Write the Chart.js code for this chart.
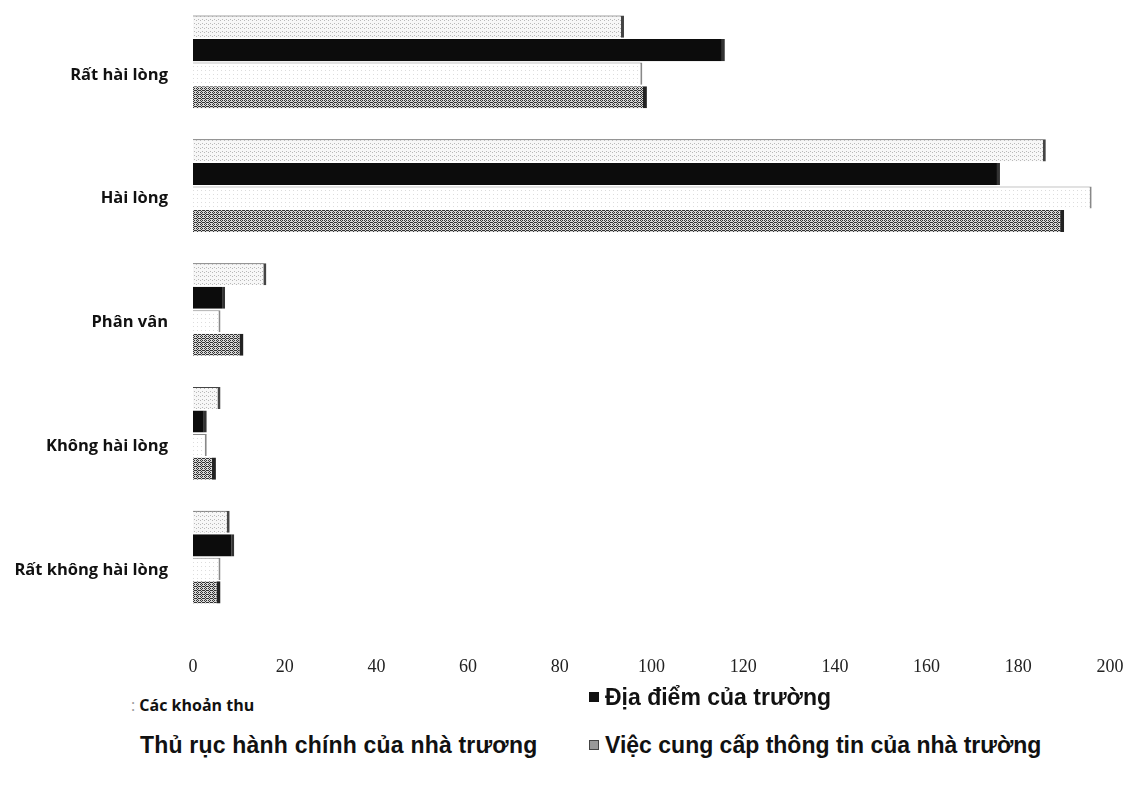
<!DOCTYPE html>
<html>
<head>
<meta charset="utf-8">
<script src="https://cdn.jsdelivr.net/npm/chart.js@4/dist/chart.umd.min.js"></script>
<style>
    body { margin: 0; background: #fff; width: 1143px; height: 789px; overflow: hidden; position: relative; }
    #wrap { position: absolute; left: 0; top: 0; width: 1143px; height: 685px; }
    .lg { position: absolute; white-space: nowrap; color: #111; line-height: 1; }
    .lg .mk { display: inline-block; width: 10px; height: 10px; margin-right: 6px; vertical-align: 3px; }
</style>
</head>
<body>
<div id="wrap"><canvas id="surveyChart"></canvas></div>

<div class="lg" style="left:131px; top:694px; font: bold 16px 'Open Sans', sans-serif;"><span style="color:#999; font-weight:normal">:</span> Các khoản thu</div>
<div class="lg" style="left:589px; top:684px; font: bold 23px 'Liberation Sans', Arial, sans-serif;"><span class="mk" style="background:#111"></span>Địa điểm của trường</div>
<div class="lg" style="left:140px; top:732px; font: bold 23px 'Liberation Sans', Arial, sans-serif; letter-spacing:0.2px;">Thủ rục hành chính của nhà trương</div>
<div class="lg" style="left:589px; top:732px; font: bold 23px 'Liberation Sans', Arial, sans-serif;"><span class="mk" style="background:#999; border:1px solid #444; width:8px; height:8px"></span>Việc cung cấp thông tin của nhà trường</div>

<script>
// categories (top to bottom) and the four series
const categories = ['Rất hài lòng', 'Hài lòng', 'Phân vân', 'Không hài lòng', 'Rất không hài lòng'];
const seriesNames = ['Các khoản thu', 'Địa điểm của trường', 'Thủ rục hành chính của nhà trương', 'Việc cung cấp thông tin của nhà trường'];
const cacKhoanThu = [94, 186, 16, 6, 8];
const diaDiem = [116, 176, 7, 3, 9];
const thuTuc = [98, 196, 6, 3, 6];
const cungCapThongTin = [99, 190, 11, 5, 6];
const xTicks = [0, 20, 40, 60, 80, 100, 120, 140, 160, 180, 200];

// small dither patterns to imitate the scanned fills
function makePattern(cells, on, off) {
    const c = document.createElement('canvas');
    c.width = 4; c.height = 4;
    const ctx = c.getContext('2d');
    ctx.fillStyle = off;
    ctx.fillRect(0, 0, 4, 4);
    ctx.fillStyle = on;
    cells.forEach(p => ctx.fillRect(p[0], p[1], 1, 1));
    return ctx.createPattern(c, 'repeat');
}
const lightFill = makePattern([[0, 0], [2, 3]], '#b8b8b8', '#f7f7f7');
const whiteFill = makePattern([[1, 2]], '#dddddd', '#ffffff');
const grayFill = makePattern([[0, 0], [2, 0], [1, 1], [3, 2], [0, 2], [1, 3], [2, 2]], '#333333', '#d8d8d8');

new Chart(document.getElementById('surveyChart').getContext('2d'), {
    type: 'bar',
    data: {
        labels: categories,
        datasets: [{
            label: seriesNames[0],
            data: cacKhoanThu,
            backgroundColor: lightFill,
            borderColor: '#444',
            borderWidth: { top: 1, right: 3, bottom: 0, left: 0 },
            borderSkipped: false
        }, {
            label: seriesNames[1],
            data: diaDiem,
            backgroundColor: '#0c0c0c',
            borderColor: '#333',
            borderWidth: { top: 0, right: 3, bottom: 0, left: 0 },
            borderSkipped: false
        }, {
            label: seriesNames[2],
            data: thuTuc,
            backgroundColor: whiteFill,
            borderColor: '#888',
            borderWidth: { top: 1, right: 2, bottom: 0, left: 0 },
            borderSkipped: false
        }, {
            label: seriesNames[3],
            data: cungCapThongTin,
            backgroundColor: grayFill,
            borderColor: '#222',
            borderWidth: { top: 0, right: 4, bottom: 0, left: 0 },
            borderSkipped: false
        }]
    },
    options: {
        indexAxis: 'y',
        responsive: true,
        maintainAspectRatio: false,
        animation: false,
        layout: { padding: { top: 0, right: 33, bottom: 0, left: 0 } },
        datasets: { bar: { categoryPercentage: 0.76, barPercentage: 0.94 } },
        plugins: {
            legend: { display: false },
            tooltip: { enabled: false }
        },
        scales: {
            x: {
                min: 0,
                max: 200,
                afterBuildTicks: scale => { scale.ticks = xTicks.map(v => ({ value: v })); },
                afterFit: scale => {
                    scale.height = 66;
                    scale.paddingLeft = 0;
                    scale.paddingRight = 0;
                },
                grid: { display: false },
                border: { display: false },
                ticks: {
                    color: '#222',
                    padding: 29,
                    font: { family: "'Liberation Serif', serif", size: 18 }
                }
            },
            y: {
                afterFit: scale => {
                    scale.width = 193;
                    scale.paddingTop = 0;
                    scale.paddingBottom = 0;
                },
                grid: { display: false },
                border: { display: false },
                ticks: {
                    color: '#111',
                    padding: 17,
                    labelOffset: 13,
                    font: { family: "'Open Sans', sans-serif", size: 16.5, weight: 'bold' }
                }
            }
        }
    }
});
</script>
</body>
</html>
